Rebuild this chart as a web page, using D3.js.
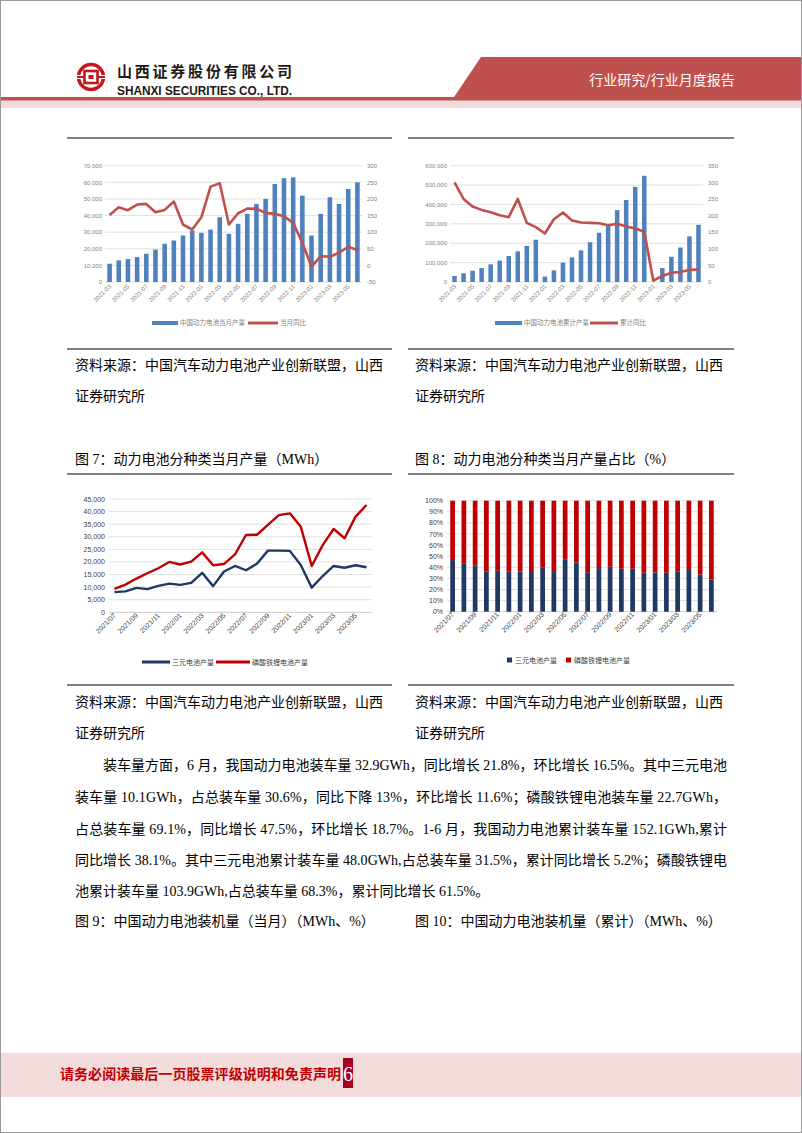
<!DOCTYPE html>
<html><head><meta charset="utf-8">
<script src="https://cdn.jsdelivr.net/npm/d3@7"></script>
<style>body{margin:0;background:#fff}svg{display:block}</style>
</head><body>
<svg id="page" width="802" height="1133"></svg>
<script>
// ---------- DATA ----------
const months1 = ["2021-03","2021-04","2021-05","2021-06","2021-07","2021-08","2021-09","2021-10","2021-11","2021-12",
  "2022-01","2022-02","2022-03","2022-04","2022-05","2022-06","2022-07","2022-08","2022-09","2022-10","2022-11","2022-12",
  "2023-01","2023-02","2023-03","2023-04","2023-05","2023-06"];
const monthlyOutput = [11000,13000,13800,15000,17000,19500,23000,25000,28000,31000,29600,31500,39000,29000,35000,41000,47000,50000,59000,62500,63000,52000,28000,41000,51000,47000,56000,60000];
const monthlyYoY = [152,175,166,183,185,160,167,192,123,108,145,237,247,123,157,171,170,158,155,148,128,68,-4,28,26,38,56,46];
const cumOutput = [31000,45000,58000,72000,91000,110000,134000,158000,186000,218000,28000,60000,100000,127000,163000,205000,254000,290000,371000,423000,491000,548000,null,72000,130000,178000,235000,295000];
const cumYoY = [300,250,227,217,210,201,195,250,178,165,146,189,209,185,179,178,177,171,175,167,161,151,4,18,28,30,36,38];
const leftTicks1 = [0,10000,20000,30000,40000,50000,60000,70000];
const rightTicks1 = [-50,0,50,100,150,200,250,300];
const leftTicks2 = [0,100000,200000,300000,400000,500000,600000];
const rightTicks2 = [0,50,100,150,200,250,300,350];

const months3 = ["2021/07","2021/08","2021/09","2021/10","2021/11","2021/12","2022/01","2022/02","2022/03","2022/04","2022/05","2022/06",
  "2022/07","2022/08","2022/09","2022/10","2022/11","2022/12","2023/01","2023/02","2023/03","2023/04","2023/05","2023/06"];
const ternaryOutput = [8000,8300,9700,9200,10500,11400,10900,11700,15700,10400,16200,18400,16700,19300,24500,24500,24400,18800,9800,14400,18400,17700,18700,17900];
const lfpOutput = [9300,11000,13400,15500,17500,20000,19000,20100,23800,18700,19200,23000,30700,30800,34700,38600,39300,34000,18400,26700,33100,29400,38000,42600];
const ticks3 = [0,5000,10000,15000,20000,25000,30000,35000,40000,45000];
const ternaryShare = [46.5,43.2,41.4,36.3,36.9,36.3,36.3,36.6,39.6,35.7,46.8,44.4,35.4,39.3,40.5,38.7,38.7,35.1,35.4,35.1,36.0,37.5,33.6,29.1];
const lfpShare = [53.5,56.8,58.6,63.7,63.1,63.7,63.7,63.4,60.4,64.3,53.2,55.6,64.6,60.7,59.5,61.3,61.3,64.9,64.6,64.9,64.0,62.5,66.4,70.9];
const ticks4 = [0,10,20,30,40,50,60,70,80,90,100];

// ---------- SETUP ----------
const svg = d3.select("#page");
const CJK = "'Noto Sans CJK SC', sans-serif";
const BODY = "'Liberation Serif','Noto Sans CJK SC', serif";
const CH = "'Liberation Sans','Noto Sans CJK SC', sans-serif";
const fmt = d3.format(",");

svg.append("rect").attr("x",0.5).attr("y",0.5).attr("width",801).attr("height",1132).attr("fill","#fff").attr("stroke","#9a9a9a");

// ---------- HEADER ----------
const hdr = svg.append("g");
hdr.append("rect").attr("x",1).attr("y",100).attr("width",800).attr("height",8).attr("fill","#f2dcdb");
hdr.append("rect").attr("x",1).attr("y",97).attr("width",800).attr("height",3.5).attr("fill","#c0504d");
hdr.append("polygon").attr("points","481,57 801,57 801,100 452,100").attr("fill","#c0504d");
hdr.append("text").attr("x",662).attr("y",85).attr("text-anchor","middle").attr("font-family",CJK)
  .attr("font-size",14).attr("fill","#fff").text("行业研究/行业月度报告");
// logo
const lg = hdr.append("g").attr("transform","translate(91,77)");
lg.append("circle").attr("r",12.5).attr("fill","none").attr("stroke","#c8161d").attr("stroke-width",3.5);
lg.append("rect").attr("x",-16).attr("y",-2).attr("width",6).attr("height",4).attr("fill","#fff");
lg.append("rect").attr("x",10).attr("y",-2).attr("width",6).attr("height",4).attr("fill","#fff");
lg.append("rect").attr("x",-6.5).attr("y",-6).attr("width",13).attr("height",12).attr("fill","none").attr("stroke","#c8161d").attr("stroke-width",2.6);
lg.append("rect").attr("x",-2.5).attr("y",-2).attr("width",5).attr("height",4).attr("fill","#c8161d");
lg.append("rect").attr("x",-14).attr("y",-1).attr("width",8).attr("height",2).attr("fill","#c8161d");
lg.append("rect").attr("x",6).attr("y",-1).attr("width",8).attr("height",2).attr("fill","#c8161d");
hdr.append("text").attr("x",117).attr("y",77).attr("font-family",CJK).attr("font-weight","bold")
  .attr("font-size",15).attr("fill","#231815").attr("textLength",175).attr("lengthAdjust","spacing").text("山西证券股份有限公司");
hdr.append("text").attr("x",117).attr("y",95).attr("font-family","'Liberation Sans Narrow','Liberation Sans',sans-serif").attr("font-weight","bold")
  .attr("font-size",12).attr("fill","#231815").attr("textLength",175).attr("lengthAdjust","spacingAndGlyphs").text("SHANXI SECURITIES CO., LTD.");

// ---------- FOOTER ----------
svg.append("rect").attr("x",1).attr("y",1053).attr("width",800).attr("height",44).attr("fill","#f2dcdb");
svg.append("text").attr("x",60).attr("y",1079).attr("font-family",CJK).attr("font-weight","bold").attr("font-size",14)
  .attr("fill","#c00000").attr("textLength",281).attr("lengthAdjust","spacing").text("请务必阅读最后一页股票评级说明和免责声明");
svg.append("rect").attr("x",343).attr("y",1058).attr("width",10).attr("height",30).attr("fill","#a50021");
svg.append("text").attr("x",348).attr("y",1081).attr("text-anchor","middle").attr("font-family","'Liberation Serif',serif")
  .attr("font-size",20).attr("fill","#fff").text("6");

// ---------- SEPARATOR LINES ----------
[[138,67,392],[138,408,734],[349,67,392],[349,408,734],[474,67,392],[474,408,734],[685,67,392],[685,408,734]].forEach(([y,x1,x2])=>{
  svg.append("line").attr("x1",x1).attr("x2",x2).attr("y1",y).attr("y2",y).attr("stroke","#7f7f7f").attr("stroke-width",2);
});

// ---------- TEXT ----------
function txt(x,y,s,opts={}){
  const t = svg.append("text").attr("x",x).attr("y",y).attr("font-family",opts.family||BODY).attr("font-size",opts.size||14).attr("fill","#000").text(s);
  if(opts.len){t.attr("textLength",opts.len).attr("lengthAdjust","spacing");}
  return t;
}
const src1 = "资料来源：中国汽车动力电池产业创新联盟，山西", src2 = "证券研究所";
[75,415].forEach(x=>{
  txt(x,370,src1,{len:308}); txt(x,401,src2);
  txt(x,707,src1,{len:308}); txt(x,738,src2);
});
txt(75,464,"图 7：动力电池分种类当月产量（MWh）");
txt(415,464,"图 8：动力电池分种类当月产量占比（%）");
txt(75,926,"图 9：中国动力电池装机量（当月）（MWh、%）");
txt(415,926,"图 10：中国动力电池装机量（累计）（MWh、%）");
const para = [
 ["装车量方面，6 月，我国动力电池装车量 32.9GWh，同比增长 21.8%，环比增长 16.5%。其中三元电池",103,624],
 ["装车量 10.1GWh，占总装车量 30.6%，同比下降 13%，环比增长 11.6%；磷酸铁锂电池装车量 22.7GWh，",75,652],
 ["占总装车量 69.1%，同比增长 47.5%，环比增长 18.7%。1-6 月，我国动力电池累计装车量 152.1GWh,累计",75,652],
 ["同比增长 38.1%。其中三元电池累计装车量 48.0GWh,占总装车量 31.5%，累计同比增长 5.2%；磷酸铁锂电",75,652],
 ["池累计装车量 103.9GWh,占总装车量 68.3%，累计同比增长 61.5%。",75,null]
];
const paraY = [770,802,834,865,896];
para.forEach((p,i)=>txt(p[1],paraY[i],p[0],p[2]?{len:p[2]}:{}));

// ---------- DUAL AXIS BAR + LINE ----------
function dualChart(cfg){
  const g = svg.append("g");
  const x = d3.scaleBand().domain(cfg.cats).range([cfg.x0,cfg.x1]).paddingInner(0.5).paddingOuter(0.25);
  const yL = d3.scaleLinear().domain(cfg.lDom).range([cfg.yb,cfg.yt]);
  const yR = d3.scaleLinear().domain(cfg.rDom).range([cfg.yb,cfg.yt]);
  g.selectAll(".gr").data(cfg.lTicks).join("line").attr("x1",cfg.x0).attr("x2",cfg.x1)
    .attr("y1",d=>yL(d)).attr("y2",d=>yL(d)).attr("stroke","#d9d9d9").attr("stroke-width",0.8);
  g.selectAll(".ll").data(cfg.lTicks).join("text").attr("x",cfg.x0-3).attr("y",d=>yL(d)+2.2)
    .attr("text-anchor","end").attr("font-family",CH).attr("font-size",6).attr("fill","#7f7f7f").text(d=>fmt(d));
  g.selectAll(".rl").data(cfg.rTicks).join("text").attr("x",cfg.x1+5).attr("y",d=>yR(d)+2.2)
    .attr("font-family",CH).attr("font-size",6).attr("fill","#7f7f7f").text(d=>d);
  g.selectAll(".bar").data(cfg.cats.map((c,i)=>({c,v:cfg.bars[i]})).filter(d=>d.v!=null)).join("rect")
    .attr("x",d=>x(d.c)).attr("width",x.bandwidth()).attr("y",d=>yL(d.v)).attr("height",d=>yL(0)-yL(d.v)).attr("fill","#4f81bd");
  const line = d3.line().x((d,i)=>x(cfg.cats[i])+x.bandwidth()/2).y(d=>yR(d));
  g.append("path").datum(cfg.line).attr("d",line).attr("fill","none").attr("stroke","#c0504d").attr("stroke-width",2.6).attr("stroke-linejoin","round");
  cfg.cats.forEach((c,i)=>{ if(i%2===0){
    g.append("text").attr("transform",`translate(${x(c)+x.bandwidth()/2+2},${cfg.yb+5}) rotate(-45)`)
      .attr("text-anchor","end").attr("font-family",CH).attr("font-size",6).attr("fill","#7f7f7f").text(c);
  }});
  const L = cfg.legend;
  g.append("rect").attr("x",L[0]).attr("y",cfg.ly-2).attr("width",L[1]-L[0]).attr("height",4).attr("fill","#4f81bd");
  g.append("text").attr("x",L[1]+2).attr("y",cfg.ly+2.3).attr("font-family",CJK).attr("font-size",6.5).attr("fill","#7f7f7f").text(cfg.names[0]);
  g.append("line").attr("x1",L[2]).attr("x2",L[3]).attr("y1",cfg.ly).attr("y2",cfg.ly).attr("stroke","#c0504d").attr("stroke-width",3);
  g.append("text").attr("x",L[3]+2).attr("y",cfg.ly+2.3).attr("font-family",CJK).attr("font-size",6.5).attr("fill","#7f7f7f").text(cfg.names[1]);
}
dualChart({cats:months1,bars:monthlyOutput,line:monthlyYoY,x0:105,x1:362,yb:282,yt:165.7,lDom:[0,70000],rDom:[-50,300],
  lTicks:leftTicks1,rTicks:rightTicks1,ly:323,legend:[152,178,248,278],names:["中国动力电池当月产量","当月同比"]});
dualChart({cats:months1,bars:cumOutput,line:cumYoY,x0:450,x1:703,yb:282,yt:165.7,lDom:[0,600000],rDom:[0,350],
  lTicks:leftTicks2,rTicks:rightTicks2,ly:323,legend:[495,522,590,618],names:["中国动力电池累计产量","累计同比"]});

// ---------- CHART 7: LINES ----------
(function(){
  const g = svg.append("g");
  const x = d3.scalePoint().domain(months3).range([109,372]).padding(0.5);
  const y = d3.scaleLinear().domain([0,45000]).range([612.3,499]);
  g.selectAll(".gr").data(ticks3).join("line").attr("x1",109).attr("x2",372).attr("y1",d=>y(d)).attr("y2",d=>y(d))
    .attr("stroke",d=>d===0?"#bfbfbf":"#d9d9d9").attr("stroke-width",0.8);
  g.selectAll(".yl").data(ticks3).join("text").attr("x",105).attr("y",d=>y(d)+2.5).attr("text-anchor","end")
    .attr("font-family",CH).attr("font-size",7).attr("fill","#404040").text(d=>fmt(d));
  const ln = d3.line().x((d,i)=>x(months3[i])).y(d=>y(d));
  g.append("path").datum(ternaryOutput).attr("d",ln).attr("fill","none").attr("stroke","#203864").attr("stroke-width",2.4).attr("stroke-linejoin","round");
  g.append("path").datum(lfpOutput).attr("d",ln).attr("fill","none").attr("stroke","#c00000").attr("stroke-width",2.4).attr("stroke-linejoin","round");
  months3.forEach((c,i)=>{ if(i%2===0){
    g.append("text").attr("transform",`translate(${x(c)+2},${616}) rotate(-45)`).attr("text-anchor","end")
      .attr("font-family",CH).attr("font-size",7).attr("fill","#404040").text(c);
  }});
  const ly=662;
  g.append("line").attr("x1",142).attr("x2",170).attr("y1",ly).attr("y2",ly).attr("stroke","#203864").attr("stroke-width",3);
  g.append("text").attr("x",172).attr("y",ly+2.5).attr("font-family",CJK).attr("font-size",7).attr("fill","#404040").text("三元电池产量");
  g.append("line").attr("x1",216).attr("x2",250).attr("y1",ly).attr("y2",ly).attr("stroke","#c00000").attr("stroke-width",3);
  g.append("text").attr("x",252).attr("y",ly+2.5).attr("font-family",CJK).attr("font-size",7).attr("fill","#404040").text("磷酸铁锂电池产量");
})();

// ---------- CHART 8: 100% STACKED ----------
(function(){
  const g = svg.append("g");
  const x = d3.scaleBand().domain(months3).range([447,717]).paddingInner(0.58).paddingOuter(0.29);
  const y = d3.scaleLinear().domain([0,100]).range([611.7,500.7]);
  g.selectAll(".gr").data(ticks4).join("line").attr("x1",447).attr("x2",717).attr("y1",d=>y(d)).attr("y2",d=>y(d))
    .attr("stroke",d=>d===0?"#bfbfbf":"#d9d9d9").attr("stroke-width",0.8);
  g.selectAll(".yl").data(ticks4).join("text").attr("x",443).attr("y",d=>y(d)+2.5).attr("text-anchor","end")
    .attr("font-family",CH).attr("font-size",7).attr("fill","#404040").text(d=>d+"%");
  const rows = months3.map((m,i)=>({m,a:ternaryShare[i],b:lfpShare[i]}));
  const stack = d3.stack().keys(["a","b"])(rows);
  const cols = ["#1f3864","#c00000"];
  stack.forEach((s,k)=>{
    g.selectAll(".s"+k).data(s).join("rect").attr("x",d=>x(d.data.m)).attr("width",x.bandwidth())
      .attr("y",d=>y(d[1])).attr("height",d=>y(d[0])-y(d[1])).attr("fill",cols[k]);
  });
  months3.forEach((c,i)=>{ if(i%2===0){
    g.append("text").attr("transform",`translate(${x(c)+x.bandwidth()/2+2},${615}) rotate(-45)`).attr("text-anchor","end")
      .attr("font-family",CH).attr("font-size",7).attr("fill","#404040").text(c);
  }});
  const ly=660;
  g.append("rect").attr("x",507).attr("y",ly-2.5).attr("width",5).attr("height",5).attr("fill",cols[0]);
  g.append("text").attr("x",515).attr("y",ly+2.5).attr("font-family",CJK).attr("font-size",7).attr("fill","#404040").text("三元电池产量");
  g.append("rect").attr("x",566).attr("y",ly-2.5).attr("width",5).attr("height",5).attr("fill",cols[1]);
  g.append("text").attr("x",574).attr("y",ly+2.5).attr("font-family",CJK).attr("font-size",7).attr("fill","#404040").text("磷酸铁锂电池产量");
})();
</script>
</body></html>
